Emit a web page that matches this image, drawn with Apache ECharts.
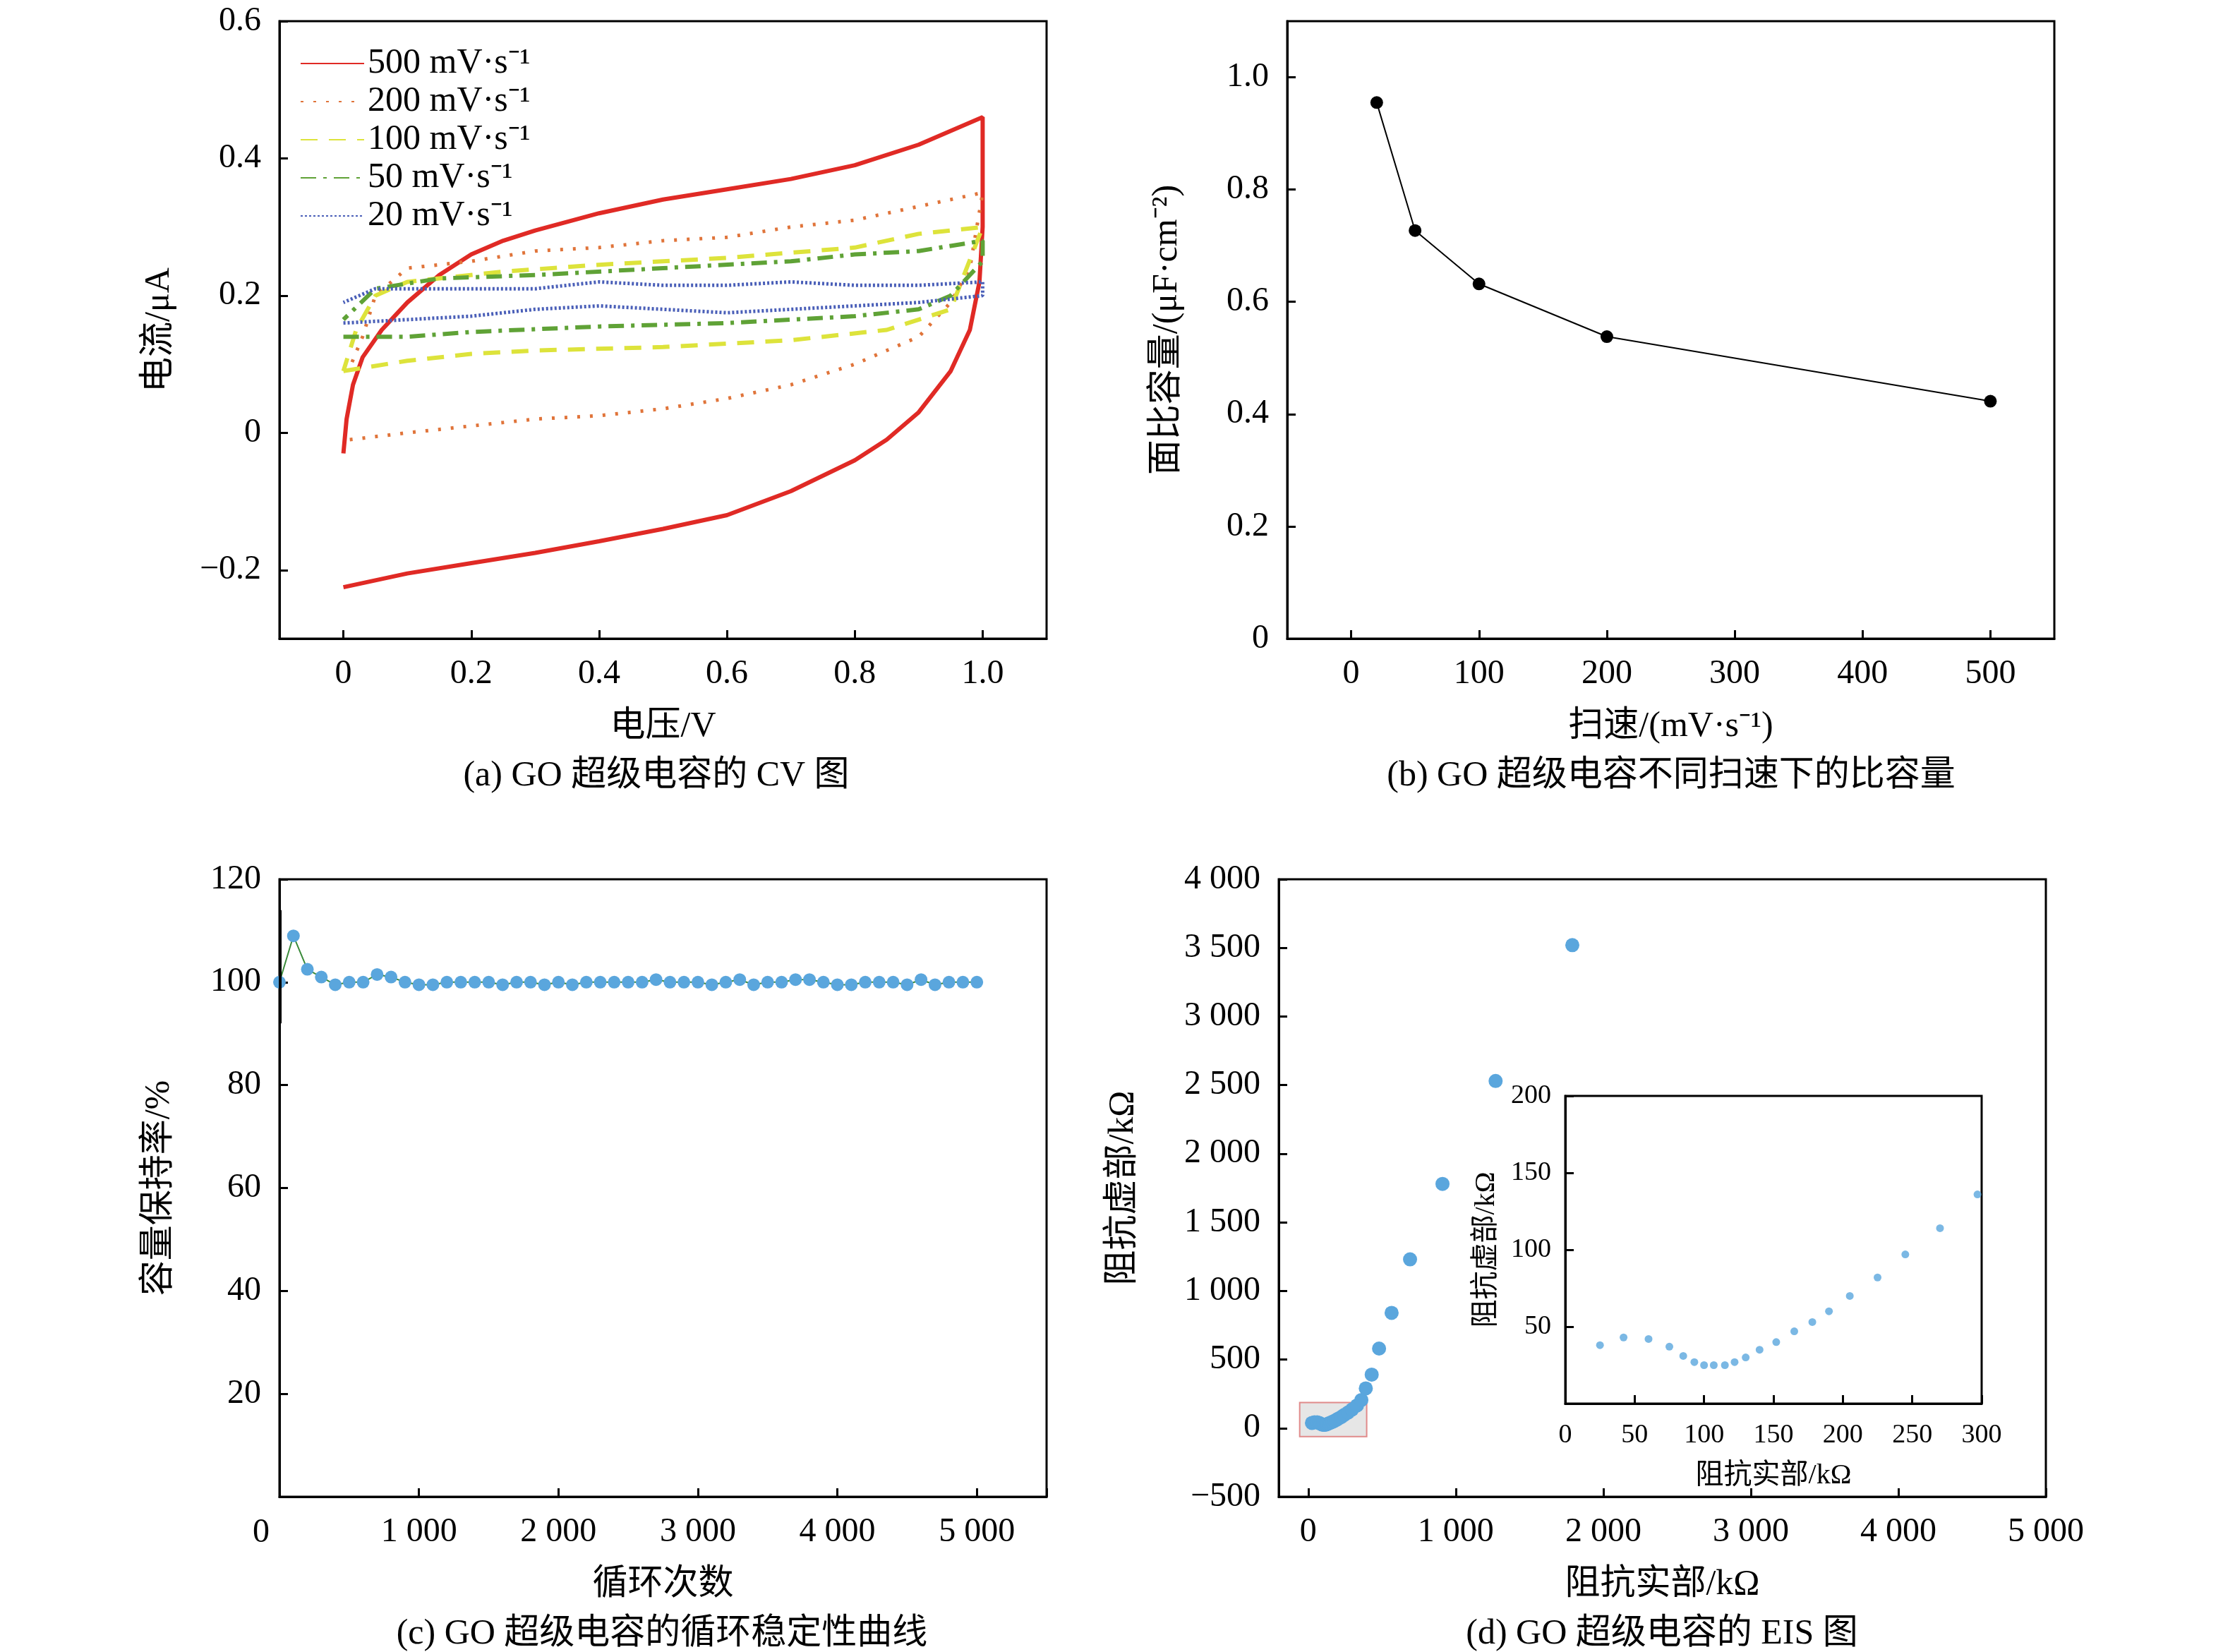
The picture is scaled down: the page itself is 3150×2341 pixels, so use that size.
<!DOCTYPE html>
<html>
<head>
<meta charset="utf-8">
<script src="https://cdn.jsdelivr.net/npm/echarts@6/dist/echarts.min.js"></script>
<style>html,body{margin:0;background:#fff}#main{width:3150px;height:2341px}</style>
</head>
<body>
<div id="main"></div>
<script>
// (a) CV 数据 [电压, 电流]
var cv500 = [[0,-0.03],[0.005,0.02],[0.015,0.07],[0.03,0.11],[0.06,0.15],[0.1,0.19],[0.15,0.23],[0.2,0.26],[0.25,0.28],[0.3,0.295],[0.4,0.32],[0.5,0.34],[0.6,0.355],[0.7,0.37],[0.8,0.39],[0.9,0.42],[1.0,0.46],[1.0,0.3],[0.995,0.22],[0.98,0.15],[0.95,0.09],[0.9,0.03],[0.85,-0.01],[0.8,-0.04],[0.7,-0.085],[0.6,-0.12],[0.5,-0.14],[0.4,-0.158],[0.3,-0.175],[0.2,-0.19],[0.1,-0.205],[0,-0.225]];
var cv200 = [[0.01,-0.01],[0.1,0.0],[0.2,0.01],[0.3,0.02],[0.4,0.025],[0.5,0.035],[0.6,0.05],[0.7,0.07],[0.8,0.1],[0.9,0.14],[0.95,0.19],[0.98,0.24],[1.0,0.35],[0.9,0.33],[0.8,0.31],[0.7,0.3],[0.6,0.285],[0.5,0.28],[0.4,0.27],[0.3,0.265],[0.2,0.25],[0.1,0.24],[0.05,0.2],[0.03,0.14],[0.01,0.095]];
var cv100 = [[0,0.09],[0.1,0.105],[0.2,0.115],[0.3,0.12],[0.5,0.125],[0.7,0.135],[0.85,0.15],[0.95,0.18],[1.0,0.3],[0.9,0.29],[0.8,0.27],[0.6,0.255],[0.4,0.245],[0.25,0.235],[0.15,0.225],[0.1,0.22],[0.05,0.2],[0.02,0.15],[0,0.09]];
var cv50 = [[0,0.14],[0.1,0.14],[0.2,0.147],[0.4,0.155],[0.6,0.16],[0.8,0.17],[0.9,0.18],[0.95,0.2],[1.0,0.25],[1.0,0.28],[0.9,0.265],[0.8,0.26],[0.7,0.25],[0.5,0.24],[0.3,0.23],[0.15,0.225],[0.05,0.21],[0,0.165]];
var cv20 = [[0,0.16],[0.1,0.165],[0.2,0.17],[0.3,0.18],[0.4,0.185],[0.5,0.18],[0.6,0.175],[0.7,0.18],[0.8,0.185],[0.9,0.19],[1.0,0.2],[1.0,0.22],[0.9,0.215],[0.8,0.215],[0.7,0.22],[0.6,0.215],[0.5,0.215],[0.4,0.22],[0.3,0.21],[0.2,0.21],[0.05,0.21],[0,0.19]];

// (b) 比容量
var scanRate = [20,50,100,200,500];
var capacity = [0.955,0.727,0.632,0.538,0.423];

// (c) 循环稳定性
var cycles = [];
for (var i = 0; i <= 50; i++) cycles.push(i * 100);
var retention = [100,109,102.5,101,99.5,100,100,101.5,101,100,99.5,99.5,100,100,100,100,99.5,100,100,99.5,100,99.5,100,100,100,100,100,100.5,100,100,100,99.5,100,100.5,99.5,100,100,100.5,100.5,100,99.5,99.5,100,100,100,99.5,100.5,99.5,100,100,100];

// (d) EIS [实部, 虚部]
var eisLow = [[25,38],[42,43],[60,42],[75,37],[85,31],[93,27],[100,25],[107,25],[115,25],[122,27],[130,30],[140,35],[152,40],[165,47],[178,53],[190,60],[205,70],[225,82],[245,97],[270,114],[297,136]];
var eisHigh = [[330,165],[360,205],[390,290],[430,390],[480,580],[565,840],[690,1230],[910,1780],[1270,2530],[1790,3520]];

var FONT = '"Liberation Serif","Noto Sans CJK SC",serif';
var blue = '#5aa6dd';
var FS = 48;

function ax(o) {
  var base = {
    axisLine: {show: true, onZero: false, lineStyle: {color: '#000', width: 3}},
    axisTick: {show: true, inside: true, length: 12, lineStyle: {color: '#000', width: 3}},
    axisLabel: {color: '#000', fontSize: FS, fontFamily: FONT, margin: 26},
    splitLine: {show: false},
    nameLocation: 'middle',
    nameTextStyle: {color: '#000', fontSize: 50, fontFamily: FONT}
  };
  for (var k in o) base[k] = o[k];
  return base;
}
function tick(vals) { return {show: true, inside: true, length: 12, lineStyle: {color: '#000', width: 3}, customValues: vals}; }
function sp(v) { return String(v).replace(/\B(?=(\d{3})+(?!\d))/g, ' ').replace('-', '\u2212'); }
function cap(text, x, y) {
  return {type: 'text', x: x, y: y, style: {text: text, fontSize: 50, fontFamily: FONT, fill: '#000', align: 'center', verticalAlign: 'middle'}};
}

var chart = echarts.init(document.getElementById('main'));
var gridStyle = {show: true, borderColor: '#000', borderWidth: 3, containLabel: false};
chart.setOption({
  animation: false,
  grid: [
    Object.assign({left: 396, top: 30, width: 1087, height: 875}, gridStyle),
    Object.assign({left: 1824, top: 30, width: 1087, height: 875}, gridStyle),
    Object.assign({left: 396, top: 1246, width: 1087, height: 875}, gridStyle),
    Object.assign({left: 1812, top: 1246, width: 1087, height: 875}, gridStyle),
    Object.assign({left: 2218, top: 1553, width: 590, height: 436}, gridStyle)
  ],
  xAxis: [
    ax({gridIndex: 0, type: 'value', min: -0.1, max: 1.1, name: '电压/V', nameGap: 100,
        axisTick: tick([0,0.2,0.4,0.6,0.8,1.0]),
        axisLabel: {color: '#000', fontSize: FS, fontFamily: FONT, margin: 26, customValues: [0,0.2,0.4,0.6,0.8,1.0],
          formatter: function (v) { return v === 0 ? '0' : v.toFixed(1); }}}),
    ax({gridIndex: 1, type: 'value', min: -50, max: 550, name: '扫速/(mV·s⁻¹)', nameGap: 100,
        axisTick: tick([0,100,200,300,400,500]),
        axisLabel: {color: '#000', fontSize: FS, fontFamily: FONT, margin: 26, customValues: [0,100,200,300,400,500]}}),
    ax({gridIndex: 2, type: 'value', min: 0, max: 5500, interval: 1000, name: '循环次数', nameGap: 100,
        axisLabel: {color: '#000', fontSize: FS, fontFamily: FONT, margin: 26, formatter: function (v) { return (v === 0 || v > 5000) ? '' : sp(v); }}}),
    ax({gridIndex: 3, type: 'value', min: -200, max: 5000, name: '阻抗实部/kΩ', nameGap: 100,
        axisTick: tick([0,1000,2000,3000,4000,5000]),
        axisLabel: {color: '#000', fontSize: FS, fontFamily: FONT, margin: 26, customValues: [0,1000,2000,3000,4000,5000], formatter: sp}}),
    ax({gridIndex: 4, type: 'value', min: 0, max: 300, interval: 50, name: '阻抗实部/kΩ', nameGap: 82,
        axisLabel: {color: '#000', fontSize: 38, fontFamily: FONT, margin: 26}, nameTextStyle: {color: '#000', fontSize: 40, fontFamily: FONT}})
  ],
  yAxis: [
    ax({gridIndex: 0, type: 'value', min: -0.3, max: 0.6, name: '电流/μA', nameGap: 145,
        axisTick: tick([-0.2,0,0.2,0.4,0.6]),
        axisLabel: {color: '#000', fontSize: FS, fontFamily: FONT, margin: 26, customValues: [-0.2,0,0.2,0.4,0.6],
          formatter: function (v) { return v === 0 ? '0' : sp(v.toFixed(1)); }}}),
    ax({gridIndex: 1, type: 'value', min: 0, max: 1.1, name: '面比容量/(μF·cm⁻²)', nameGap: 145,
        axisTick: tick([0,0.2,0.4,0.6,0.8,1.0]),
        axisLabel: {color: '#000', fontSize: FS, fontFamily: FONT, margin: 26, customValues: [0,0.2,0.4,0.6,0.8,1.0],
          formatter: function (v) { return v === 0 ? '0' : v.toFixed(1); }}}),
    ax({gridIndex: 2, type: 'value', min: 0, max: 120, interval: 20, name: '容量保持率/%', nameGap: 145,
        axisLabel: {color: '#000', fontSize: FS, fontFamily: FONT, margin: 26, formatter: function (v) { return v === 0 ? '' : v; }}}),
    ax({gridIndex: 3, type: 'value', min: -500, max: 4000, interval: 500, name: '阻抗虚部/kΩ', nameGap: 195,
        axisLabel: {color: '#000', fontSize: FS, fontFamily: FONT, margin: 26, formatter: sp}}),
    ax({gridIndex: 4, type: 'value', min: 0, max: 200, interval: 50, name: '阻抗虚部/kΩ', nameGap: 92,
        axisLabel: {color: '#000', fontSize: 38, fontFamily: FONT, margin: 20, formatter: function (v) { return v === 0 ? '' : v; }},
        nameTextStyle: {color: '#000', fontSize: 40, fontFamily: FONT}})
  ],
  legend: {
    left: 420, top: 60, orient: 'vertical', itemGap: 4, itemWidth: 90, itemHeight: 24,
    itemStyle: {opacity: 0},
    textStyle: {fontSize: 50, fontFamily: FONT, color: '#000'},
    data: ['500 mV·s⁻¹','200 mV·s⁻¹','100 mV·s⁻¹','50 mV·s⁻¹','20 mV·s⁻¹']
  },
  series: [
    {name: '500 mV·s⁻¹', type: 'line', symbol: 'none', xAxisIndex: 0, yAxisIndex: 0, data: cv500, lineStyle: {color: '#e02a25', width: 6}, itemStyle: {color: '#e02a25'}},
    {name: '200 mV·s⁻¹', type: 'line', symbol: 'none', xAxisIndex: 0, yAxisIndex: 0, data: cv200, lineStyle: {color: '#e0743a', width: 5, type: [4, 14]}, itemStyle: {color: '#e0743a'}},
    {name: '100 mV·s⁻¹', type: 'line', symbol: 'none', xAxisIndex: 0, yAxisIndex: 0, data: cv100, lineStyle: {color: '#dde33b', width: 6, type: [24, 16]}, itemStyle: {color: '#dde33b'}},
    {name: '50 mV·s⁻¹', type: 'line', symbol: 'none', xAxisIndex: 0, yAxisIndex: 0, data: cv50, lineStyle: {color: '#5fa236', width: 6, type: [22, 10, 5, 10]}, itemStyle: {color: '#5fa236'}},
    {name: '20 mV·s⁻¹', type: 'line', symbol: 'none', xAxisIndex: 0, yAxisIndex: 0, data: cv20, lineStyle: {color: '#4a5fb8', width: 5, type: [3, 3]}, itemStyle: {color: '#4a5fb8'}},
    {type: 'line', xAxisIndex: 1, yAxisIndex: 1, data: scanRate.map(function (s, i) { return [s, capacity[i]]; }),
      symbol: 'circle', symbolSize: 18, itemStyle: {color: '#000'}, lineStyle: {color: '#000', width: 2}},
    {type: 'line', xAxisIndex: 2, yAxisIndex: 2, data: cycles.map(function (c, i) { return [c, retention[i]]; }),
      symbol: 'circle', symbolSize: 18, itemStyle: {color: blue}, lineStyle: {color: '#3a8a3a', width: 2},
      markLine: {silent: true, symbol: 'none', label: {show: false}, lineStyle: {color: '#000', width: 4, type: 'solid'},
        data: [[{coord: [5, 92]}, {coord: [5, 114]}]]}},
    {type: 'scatter', xAxisIndex: 3, yAxisIndex: 3, data: eisLow.concat(eisHigh), symbolSize: 20, itemStyle: {color: blue, opacity: 1},
      markArea: {silent: true, itemStyle: {color: 'rgba(200,200,200,0.45)', borderColor: '#e08a8a', borderWidth: 2},
        data: [[{coord: [-58, 187]}, {coord: [396, -62]}]]}},
    {type: 'scatter', xAxisIndex: 4, yAxisIndex: 4, data: eisLow, symbolSize: 11, itemStyle: {color: blue}}
  ],
  graphic: [
    cap('(a) GO 超级电容的 CV 图', 930, 1100),
    cap('(b) GO 超级电容不同扫速下的比容量', 2368, 1100),
    cap('(c) GO 超级电容的循环稳定性曲线', 938, 2316),
    cap('(d) GO 超级电容的 EIS 图', 2355, 2316),
    {type: 'text', x: 358, y: 2172, style: {text: '0', fontSize: FS, fontFamily: FONT, fill: '#000', verticalAlign: 'middle'}}
  ]
});
</script>
</body>
</html>
